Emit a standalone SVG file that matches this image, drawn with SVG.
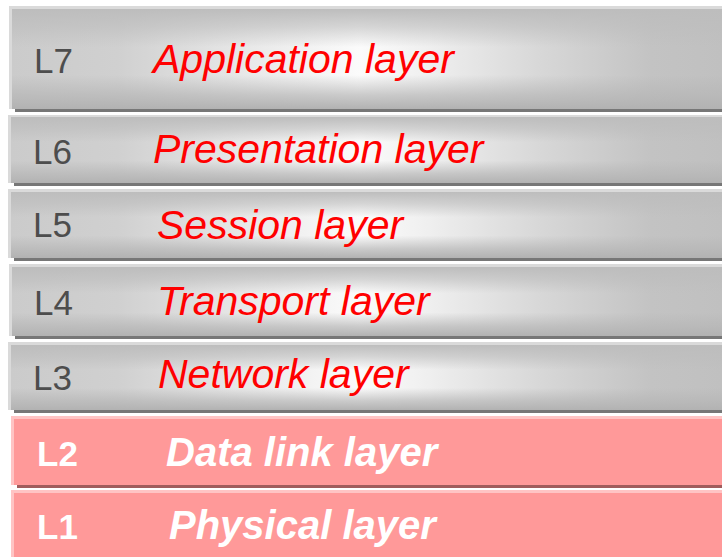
<svg xmlns="http://www.w3.org/2000/svg" width="722" height="557" viewBox="0 0 722 557">
<defs>
<linearGradient id="hg" x1="0" y1="0" x2="1" y2="0">
<stop offset="0" stop-color="#cbcbcb"/>
<stop offset="0.15" stop-color="#d0d0d0"/>
<stop offset="0.33" stop-color="#e8e8e8"/>
<stop offset="0.49" stop-color="#fbfbfb"/>
<stop offset="0.58" stop-color="#f0f0f0"/>
<stop offset="0.74" stop-color="#d8d8d8"/>
<stop offset="0.9" stop-color="#c3c3c3"/>
<stop offset="1" stop-color="#c0c0c0"/>
</linearGradient>
<linearGradient id="vg" x1="0" y1="0" x2="0" y2="1">
<stop offset="0" stop-color="#bdbdbd" stop-opacity="1"/>
<stop offset="0.18" stop-color="#bdbdbd" stop-opacity="0.6"/>
<stop offset="0.38" stop-color="#bdbdbd" stop-opacity="0"/>
<stop offset="0.66" stop-color="#b6b6b6" stop-opacity="0"/>
<stop offset="0.86" stop-color="#b6b6b6" stop-opacity="0.7"/>
<stop offset="1" stop-color="#b2b2b2" stop-opacity="1"/>
</linearGradient>
</defs>
<style>
.go{fill:#dadada}
.gb{fill:url(#hg)}
.gv{fill:url(#vg)}
.gs{fill:#777777}
.po{fill:#ffc4c4}
.pb{fill:#ff9999}
.ps{fill:#a05c5c}
.lab{font-family:"Liberation Sans",Arial,sans-serif;font-size:35px;fill:#4d4d4d}
.nm{font-family:"Liberation Sans",Arial,sans-serif;font-size:41px;font-style:italic;fill:#ff0000}
.labw{font-family:"Liberation Sans",Arial,sans-serif;font-size:35px;font-weight:bold;fill:#ffffff}
.nmw{font-family:"Liberation Sans",Arial,sans-serif;font-size:40px;font-weight:bold;font-style:italic;fill:#ffffff}
</style>
<rect width="722" height="557" fill="#ffffff"/>
<g id="L7">
<rect class="go" x="9" y="6" width="713" height="103"/>
<rect class="gs" x="15" y="109" width="707" height="3"/>
<rect class="gb" x="12" y="9" width="710" height="100"/>
<rect class="gv" x="12" y="9" width="710" height="100"/>
<text class="lab" x="34" y="73">L7</text>
<text class="nm" x="153" y="73">Application layer</text>
</g>
<g id="L6">
<rect class="go" x="8" y="115" width="714" height="68"/>
<rect class="gs" x="14" y="183" width="708" height="3"/>
<rect class="gb" x="11" y="117" width="711" height="66"/>
<rect class="gv" x="11" y="117" width="711" height="66"/>
<text class="lab" x="33" y="164">L6</text>
<text class="nm" x="153" y="163">Presentation layer</text>
</g>
<g id="L5">
<rect class="go" x="8" y="189" width="714" height="69"/>
<rect class="gs" x="14" y="258" width="708" height="3"/>
<rect class="gb" x="11" y="192" width="711" height="66"/>
<rect class="gv" x="11" y="192" width="711" height="66"/>
<text class="lab" x="33" y="237">L5</text>
<text class="nm" x="157" y="239">Session layer</text>
</g>
<g id="L4">
<rect class="go" x="9" y="264" width="713" height="72"/>
<rect class="gs" x="15" y="336" width="707" height="3"/>
<rect class="gb" x="12" y="267" width="710" height="69"/>
<rect class="gv" x="12" y="267" width="710" height="69"/>
<text class="lab" x="34" y="315">L4</text>
<text class="nm" x="157" y="315">Transport layer</text>
</g>
<g id="L3">
<rect class="go" x="8" y="342" width="714" height="68"/>
<rect class="gs" x="14" y="410" width="708" height="3"/>
<rect class="gb" x="11" y="345" width="711" height="65"/>
<rect class="gv" x="11" y="345" width="711" height="65"/>
<text class="lab" x="33" y="390">L3</text>
<text class="nm" x="158" y="388">Network layer</text>
</g>
<g id="L2">
<rect class="po" x="11" y="416" width="711" height="69"/>
<rect class="ps" x="17" y="485" width="705" height="3"/>
<rect class="pb" x="14" y="419" width="708" height="66"/>
<text class="labw" x="37" y="466">L2</text>
<text class="nmw" x="166" y="466">Data link layer</text>
</g>
<g id="L1">
<rect class="po" x="11" y="490" width="711" height="67"/>
<rect class="pb" x="14" y="493" width="708" height="64"/>
<text class="labw" x="37" y="539">L1</text>
<text class="nmw" x="169" y="539">Physical layer</text>
</g>
<g id="connectors"/>
</svg>
